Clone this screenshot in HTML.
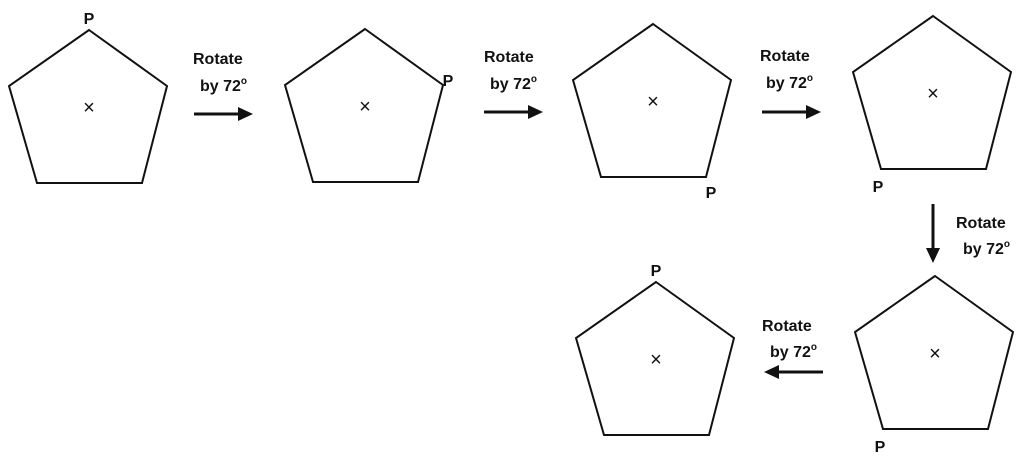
<!DOCTYPE html>
<html><head><style>
body{margin:0;background:#fff}
svg text{font-family:"Liberation Sans",sans-serif;font-weight:bold;font-size:16px;fill:#111}
</style></head><body>
<svg width="1024" height="458" viewBox="0 0 1024 458" xmlns="http://www.w3.org/2000/svg">
<defs>
<g id="pent"><polygon points="0,0 78,56 53,153 -52,153 -80,56" fill="none" stroke="#111" stroke-width="2"/>
<text x="0" y="84" text-anchor="middle" style="font-weight:normal;font-size:20px">×</text></g>
</defs>
<use href="#pent" x="89" y="30"/>
<use href="#pent" x="365" y="29"/>
<use href="#pent" x="653" y="24"/>
<use href="#pent" x="933" y="16"/>
<use href="#pent" x="935" y="276"/>
<use href="#pent" x="656" y="282"/>
<text x="89" y="24" text-anchor="middle">P</text>
<text x="448" y="86" text-anchor="middle">P</text>
<text x="711" y="198" text-anchor="middle">P</text>
<text x="878" y="192" text-anchor="middle">P</text>
<text x="880" y="452" text-anchor="middle">P</text>
<text x="656" y="276" text-anchor="middle">P</text>
<g stroke="#111" stroke-width="3" fill="#111">
<line x1="194" y1="114" x2="240" y2="114"/><polygon points="253,114 238,107 238,121" stroke="none"/>
<line x1="484" y1="112" x2="530" y2="112"/><polygon points="543,112 528,105 528,119" stroke="none"/>
<line x1="762" y1="112" x2="808" y2="112"/><polygon points="821,112 806,105 806,119" stroke="none"/>
<line x1="933" y1="204" x2="933" y2="250"/><polygon points="933,263 926,248 940,248" stroke="none"/>
<line x1="823" y1="372" x2="777" y2="372"/><polygon points="764,372 779,365 779,379" stroke="none"/>
</g>
<text x="193" y="64">Rotate</text><text x="200" y="91">by 72<tspan dy="-7" font-size="10">o</tspan></text>
<text x="484" y="62">Rotate</text><text x="490" y="89">by 72<tspan dy="-7" font-size="10">o</tspan></text>
<text x="760" y="61">Rotate</text><text x="766" y="88">by 72<tspan dy="-7" font-size="10">o</tspan></text>
<text x="956" y="228">Rotate</text><text x="963" y="254">by 72<tspan dy="-7" font-size="10">o</tspan></text>
<text x="762" y="331">Rotate</text><text x="770" y="357">by 72<tspan dy="-7" font-size="10">o</tspan></text>
</svg>
</body></html>
